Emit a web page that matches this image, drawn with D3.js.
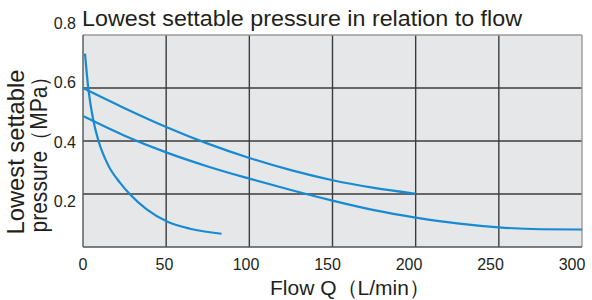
<!DOCTYPE html>
<html><head><meta charset="utf-8">
<script src="https://cdn.jsdelivr.net/npm/d3@7/dist/d3.min.js"></script>
<style>html,body{margin:0;padding:0;background:#fff;}svg{display:block;}</style>
</head><body>
<script>
// ---- data ----
const xTicks = [0, 50, 100, 150, 200, 250, 300];
const yTicks = [0.2, 0.4, 0.6, 0.8];
const curveAX = [1.2, 3.2, 6.2, 9.2, 15.2, 22.2, 28.2, 38.3, 51.2, 64.3, 83.3];
const curveAY = [0.73, 0.598, 0.478, 0.403, 0.308, 0.243, 0.199, 0.142, 0.094, 0.069, 0.05];
const curveBX = [0, 25, 50, 75, 100, 125, 150, 175, 200];
const curveBY = [0.6, 0.524, 0.453, 0.39, 0.336, 0.29, 0.252, 0.223, 0.201];
const curveCX = [0, 25, 50, 75, 100, 125, 150, 175, 200, 225, 250, 275, 300];
const curveCY = [0.494, 0.42, 0.357, 0.304, 0.258, 0.215, 0.175, 0.139, 0.111, 0.089, 0.074, 0.067, 0.066];
const titleText = "Lowest settable pressure in relation to flow";
const yTitle1 = "Lowest settable";
const yTitle2 = "pressure\uFF08MPa\uFF09";
const xTitle = "Flow Q\uFF08L/min\uFF09";

const W = 592, H = 300;
const svg = d3.select("body").append("svg").attr("width", W).attr("height", H);
const L = 83, R = 582, T = 35, B = 247;
const x = d3.scaleLinear().domain([0, 300]).range([L, R]);
const y = d3.scaleLinear().domain([0, 0.8]).range([B, T]);
const xLab = d3.scaleLinear().domain([0, 300]).range([83, 572]);
const yLab = d3.scaleLinear().domain([0.2, 0.6]).range([207, 88]);
const font = "'Liberation Sans', Arial, sans-serif";
const txt = "#231f20";

svg.append("rect").attr("x", L).attr("y", T).attr("width", R - L).attr("height", B - T).attr("fill", "#e6e7e8");

// grid
svg.append("g").selectAll("line").data(xTicks.slice(1, -1)).join("line")
  .attr("x1", d => x(d)).attr("x2", d => x(d)).attr("y1", T).attr("y2", B)
  .attr("stroke", "#3c3c3c").attr("stroke-width", 1.4);
svg.append("g").selectAll("line").data(yTicks.slice(0, -1)).join("line")
  .attr("y1", d => y(d)).attr("y2", d => y(d)).attr("x1", L).attr("x2", R)
  .attr("stroke", "#3c3c3c").attr("stroke-width", 1.4);
// frame
svg.append("line").attr("x1", L).attr("x2", R).attr("y1", T).attr("y2", T).attr("stroke", "#9a9a9a").attr("stroke-width", 1.4);
svg.append("line").attr("x1", R).attr("x2", R).attr("y1", T).attr("y2", B).attr("stroke", "#9a9a9a").attr("stroke-width", 1.4);
svg.append("line").attr("x1", L).attr("x2", L).attr("y1", T).attr("y2", B).attr("stroke", "#555").attr("stroke-width", 1.4);
svg.append("line").attr("x1", L).attr("x2", R).attr("y1", B).attr("y2", B).attr("stroke", "#555").attr("stroke-width", 1.4);

// curves
const line = d3.line().x(d => x(d[0])).y(d => y(d[1])).curve(d3.curveMonotoneX);
[[curveAX, curveAY], [curveBX, curveBY], [curveCX, curveCY]].forEach(([xs, ys]) => {
  svg.append("path").attr("d", line(d3.zip(xs, ys)))
    .attr("fill", "none").attr("stroke", "#168ad3").attr("stroke-width", 2.2);
});

// tick labels
svg.append("g").selectAll("text").data(xTicks).join("text")
  .attr("x", d => xLab(d)).attr("y", 270).attr("text-anchor", "middle")
  .attr("font-family", font).attr("font-size", 16).attr("fill", txt).text(d => d);
svg.append("g").selectAll("text").data(yTicks).join("text")
  .attr("x", 76).attr("y", d => yLab(d)).attr("text-anchor", "end")
  .attr("font-family", font).attr("font-size", 16).attr("fill", txt).text(d => d.toFixed(1));

// titles
svg.append("text").attr("x", 82).attr("y", 26).attr("font-family", font).attr("font-size", 22)
  .attr("fill", txt).attr("textLength", 440).attr("lengthAdjust", "spacingAndGlyphs").text(titleText);
svg.append("text").attr("transform", "translate(24,152) rotate(-90)").attr("text-anchor", "middle")
  .attr("font-family", font).attr("font-size", 24).attr("fill", txt)
  .attr("textLength", 165).attr("lengthAdjust", "spacingAndGlyphs").text(yTitle1);
svg.append("text").attr("transform", "translate(47,149) rotate(-90)").attr("text-anchor", "middle")
  .attr("font-family", font).attr("font-size", 23).attr("fill", txt)
  .attr("textLength", 167).attr("lengthAdjust", "spacingAndGlyphs").text(yTitle2);
svg.append("text").attr("x", 350).attr("y", 295).attr("text-anchor", "middle")
  .attr("font-family", font).attr("font-size", 21).attr("fill", txt)
  .attr("textLength", 160).attr("lengthAdjust", "spacingAndGlyphs").text(xTitle);
</script>
</body></html>
